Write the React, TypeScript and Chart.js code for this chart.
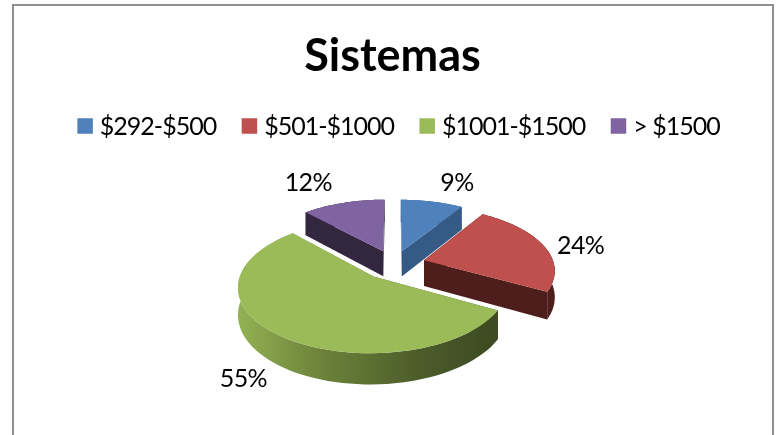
import React, { useEffect, useRef } from "react";
import { Chart, registerables } from "chart.js";

Chart.register(...registerables);

const titleText = "Sistemas";
const categories = ["$292-$500", "$501-$1000", "$1001-$1500", "> $1500"];
const shares = [9, 24, 55, 12];
const topColors = ["#4F81BD", "#C0504D", "#9BBB59", "#8064A2"];
const wallColors = ["#345A85", "#4E1E1C", "#5F7434", "#33263F"];
const drawOrder = [3, 0, 1, 2];
const explodeBySlice = [0.22, 0.24, 0.25, 0.23];
const labelNudges = [[25, -19], [37, 0], [-35, 44], [-35, -20]];

const FONT = "Lato, 'Open Sans', sans-serif";
const CX = 394, CY = 264, RX = 130, KY = 62, PERSP = 0.14, DEPTH = 26;

function project(X: number, Y: number) {
  const w = 1 / (1 - PERSP * Y);
  return { x: CX + X * RX * w, y: CY + Y * KY * w, w };
}

const pie3d = {
  id: "pie3d",
  beforeDraw(chart: any) {
    const { ctx, width, height } = chart;
    ctx.save();
    ctx.fillStyle = "#fff";
    ctx.fillRect(0, 0, width, height);
    ctx.strokeStyle = "#8f8f8f";
    ctx.lineWidth = 2;
    ctx.strokeRect(13, 5, 760, 500);
    ctx.restore();
  },
  beforeDatasetsDraw(chart: any) {
    const { ctx } = chart;
    const arcs = chart.getDatasetMeta(0).data;
    const n = 72;
    for (const i of drawOrder) {
      const arc = arcs[i];
      const a0 = arc.startAngle, a1 = arc.endAngle;
      const mid = (a0 + a1) / 2;
      const ox = Math.cos(mid) * explodeBySlice[i], oy = Math.sin(mid) * explodeBySlice[i];
      const rim: { x: number; y: number; w: number }[] = [];
      for (let k = 0; k <= n; k++) {
        const a = a0 + ((a1 - a0) * k) / n;
        rim.push(project(ox + Math.cos(a), oy + Math.sin(a)));
      }
      const apex = project(ox, oy);
      const down = (p: { x: number; y: number; w: number }) => ({ x: p.x, y: p.y + DEPTH * p.w });
      let wall: any = wallColors[i];
      if (i === 2) {
        const g = ctx.createLinearGradient(236, 0, 497, 0);
        g.addColorStop(0, "#94B355");
        g.addColorStop(0.3, "#6F863B");
        g.addColorStop(0.7, "#4C5C2A");
        g.addColorStop(1, "#3D4A22");
        wall = g;
      }
      ctx.fillStyle = wall;
      for (const e of [rim[0], rim[n]]) {
        const da = down(apex), de = down(e);
        ctx.beginPath();
        ctx.moveTo(apex.x, apex.y);
        ctx.lineTo(e.x, e.y);
        ctx.lineTo(de.x, de.y);
        ctx.lineTo(da.x, da.y);
        ctx.closePath();
        ctx.fill();
      }
      ctx.beginPath();
      rim.forEach((p, k) => (k ? ctx.lineTo(p.x, p.y) : ctx.moveTo(p.x, p.y)));
      for (let k = n; k >= 0; k--) {
        const d = down(rim[k]);
        ctx.lineTo(d.x, d.y);
      }
      ctx.closePath();
      ctx.fill();
      ctx.fillStyle = arc.options.backgroundColor;
      ctx.beginPath();
      ctx.moveTo(apex.x, apex.y);
      rim.forEach((p) => ctx.lineTo(p.x, p.y));
      ctx.closePath();
      ctx.fill();
    }
    const total = shares.reduce((a, b) => a + b, 0);
    ctx.save();
    ctx.fillStyle = "#000";
    ctx.font = `25px ${FONT}`;
    (ctx as any).letterSpacing = "-0.6px";
    ctx.textAlign = "center";
    ctx.textBaseline = "middle";
    arcs.forEach((arc: any, i: number) => {
      const mid = (arc.startAngle + arc.endAngle) / 2;
      const f = 1 + explodeBySlice[i];
      const p = project(Math.cos(mid) * f, Math.sin(mid) * f);
      ctx.fillText(
        `${Math.round((shares[i] / total) * 100)}%`,
        p.x + labelNudges[i][0],
        p.y + labelNudges[i][1]
      );
    });
    (ctx as any).letterSpacing = "-1px";
    ctx.textAlign = "left";
    const box = 15.5, gap = 7, spacing = 25.5, rowY = 126;
    const widths = categories.map((c) => ctx.measureText(c).width);
    const rowW = widths.reduce((s, w) => s + w + box + gap, 0) + spacing * 3;
    let x = (chart.width + 17 - rowW) / 2;
    categories.forEach((c, i) => {
      ctx.fillStyle = topColors[i];
      ctx.fillRect(x, rowY - box / 2, box, box);
      ctx.fillStyle = "#000";
      ctx.fillText(c, x + box + gap, rowY + 1);
      x += box + gap + widths[i] + spacing;
    });
    ctx.restore();
    return false;
  },
};

export default function App() {
  const ref = useRef<HTMLCanvasElement>(null);
  useEffect(() => {
    document.body.style.margin = "0";
    document.body.style.overflow = "hidden";
    const chart = new Chart(ref.current!, {
      type: "pie",
      data: {
        labels: categories,
        datasets: [{ data: shares, backgroundColor: topColors, borderWidth: 0 }],
      },
      options: {
        animation: false,
        responsive: false,
        layout: { padding: { left: 5, top: 0 } },
        plugins: {
          legend: { display: false },
          tooltip: { enabled: false },
          title: {
            display: true,
            text: titleText,
            color: "#000",
            font: { family: FONT, size: 45, weight: "bold" },
            padding: { top: 29, bottom: 10 },
          },
        },
      },
      plugins: [pie3d],
    });
    return () => chart.destroy();
  }, []);
  return <canvas ref={ref} width={780} height={435} style={{ display: "block" }} />;
}
